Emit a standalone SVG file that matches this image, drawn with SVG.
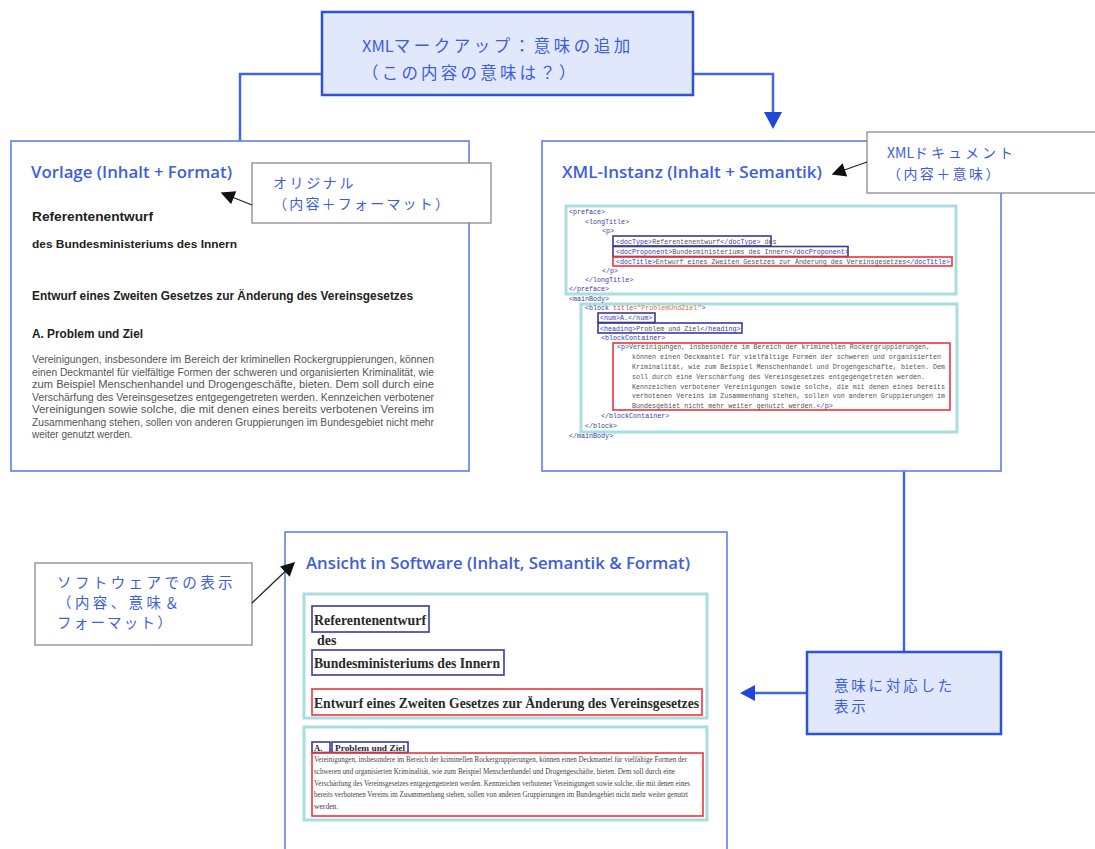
<svg xmlns="http://www.w3.org/2000/svg" width="1095" height="849" viewBox="0 0 1095 849">
<style>
.panel{fill:#fff;stroke:#5b7ff0;stroke-width:1.6}
.keybox{fill:#e1e8fb;stroke:#2d52da;stroke-width:2.5}
.callout{fill:#fff;stroke:#8a8a8a;stroke-width:1.3}
.conn{fill:none;stroke:#4268e0;stroke-width:2.5}
.pointer{fill:none;stroke:#222;stroke-width:1.3}
.teal{fill:none;stroke:#a9dede;stroke-width:3}
.blue{fill:none;stroke:#3a3a9c;stroke-width:1.6}
.red{fill:none;stroke:#f0333a;stroke-width:1.6}
.ttl{font-family:"Open Sans","Noto Sans",sans-serif;font-weight:600;font-size:15.5px;fill:#3d5ee0}
.jp{font-family:"Noto Sans CJK JP",sans-serif;fill:#3d5ee0}
.lat{letter-spacing:0}
.ar{font-family:"Liberation Sans",Arial,sans-serif;font-weight:bold;fill:#222}
.arp{font-family:"Liberation Sans",Arial,sans-serif;font-size:10px;fill:#555}
.tm{font-family:"Liberation Serif","Times New Roman",serif;font-weight:bold;fill:#2a2a2a}
.tmp{font-family:"Liberation Serif","Times New Roman",serif;font-size:7.6px;fill:#444}
.code{font-family:"Liberation Mono",monospace;font-size:6.7px;fill:#555}
.tag{fill:#3b3ba8}
.attr{fill:#d9532c}
.val{fill:#e0702a}
</style>
<defs>
<marker id="ak" viewBox="0 0 10 10" refX="9" refY="5" markerWidth="16" markerHeight="14" orient="auto" markerUnits="userSpaceOnUse">
<path d="M0,0 L10,5 L0,10 z" fill="#111"/>
</marker>
</defs>

<g id="connectors">
<path class="conn" d="M322,74 H240 V141"/>
<path class="conn" d="M693,74 H773 V113"/>
<path d="M764,112 L782,112 L773,129 z" fill="#1f46d8"/>
<path class="conn" d="M904,471 V652"/>
<path class="conn" d="M807,693 H754"/>
<path d="M755,685 L755,701 L740,693 z" fill="#1f46d8"/>
</g>

<g id="top-markup">
<rect class="keybox" x="322" y="12" width="371" height="83"/>
<text class="jp" x="362" y="52" font-size="16.5" letter-spacing="3.5"><tspan class="lat">XML</tspan>マークアップ：意味の追加</text>
<text class="jp" x="362" y="79" font-size="16.5" letter-spacing="3.2">（この内容の意味は？）</text>
</g>

<g id="vorlage">
<rect class="panel" x="11" y="141" width="458" height="330"/>
<text class="ttl" x="31" y="178" textLength="201" lengthAdjust="spacingAndGlyphs">Vorlage (Inhalt + Format)</text>
<text class="ar" x="32" y="221" font-size="13" textLength="121" lengthAdjust="spacingAndGlyphs">Referentenentwurf</text>
<text class="ar" x="32" y="248" font-size="11" textLength="205" lengthAdjust="spacingAndGlyphs">des Bundesministeriums des Innern</text>
<text class="ar" x="32" y="300" font-size="12" textLength="381" lengthAdjust="spacingAndGlyphs">Entwurf eines Zweiten Gesetzes zur Änderung des Vereinsgesetzes</text>
<text class="ar" x="32" y="338" font-size="12" textLength="111" lengthAdjust="spacingAndGlyphs">A. Problem und Ziel</text>
<text class="arp" x="32" y="363" textLength="402" lengthAdjust="spacingAndGlyphs">Vereinigungen, insbesondere im Bereich der kriminellen Rockergruppierungen, können</text>
<text class="arp" x="32" y="375.5" textLength="402" lengthAdjust="spacingAndGlyphs">einen Deckmantel für vielfältige Formen der schweren und organisierten Kriminalität, wie</text>
<text class="arp" x="32" y="388" textLength="402" lengthAdjust="spacingAndGlyphs">zum Beispiel Menschenhandel und Drogengeschäfte, bieten. Dem soll durch eine</text>
<text class="arp" x="32" y="400.5" textLength="402" lengthAdjust="spacingAndGlyphs">Verschärfung des Vereinsgesetzes entgegengetreten werden. Kennzeichen verbotener</text>
<text class="arp" x="32" y="413" textLength="402" lengthAdjust="spacingAndGlyphs">Vereinigungen sowie solche, die mit denen eines bereits verbotenen Vereins im</text>
<text class="arp" x="32" y="425.5" textLength="402" lengthAdjust="spacingAndGlyphs">Zusammenhang stehen, sollen von anderen Gruppierungen im Bundesgebiet nicht mehr</text>
<text class="arp" x="32" y="438">weiter genutzt werden.</text>
</g>

<g id="callout-original">
<rect class="callout" x="252" y="163" width="239" height="60"/>
<text class="jp" x="273" y="188" font-size="14" letter-spacing="2.6">オリジナル</text>
<text class="jp" x="273" y="209" font-size="14" letter-spacing="2.2">（内容＋フォーマット）</text>
<path class="pointer" d="M252,205 L222,193" marker-end="url(#ak)"/>
</g>

<g id="xml-instanz">
<rect class="panel" x="542" y="141" width="459" height="330"/>
<text class="ttl" x="562" y="178" textLength="260" lengthAdjust="spacingAndGlyphs">XML-Instanz (Inhalt + Semantik)</text>
<rect class="teal" x="566" y="206" width="390" height="88"/>
<rect class="teal" x="581" y="304" width="376" height="128"/>
<rect class="blue" x="613" y="236" width="158" height="10"/>
<rect class="blue" x="613" y="246.5" width="235" height="10"/>
<rect class="red" x="613" y="257" width="339" height="9"/>
<rect class="blue" x="598" y="313" width="57" height="9.5"/>
<rect class="blue" x="598" y="323" width="144" height="10"/>
<rect class="red" x="613" y="343" width="337" height="67"/>
<g class="code">
<text x="569" y="214" class="tag">&lt;preface&gt;</text>
<text x="585" y="224" class="tag">&lt;longTitle&gt;</text>
<text x="602" y="233" class="tag">&lt;p&gt;</text>
<text x="616" y="243.5"><tspan class="tag">&lt;docType&gt;</tspan>Referentenentwurf<tspan class="tag">&lt;/docType&gt;</tspan> des</text>
<text x="616" y="254"><tspan class="tag">&lt;docProponent&gt;</tspan>Bundesministeriums des Innern<tspan class="tag">&lt;/docProponent&gt;</tspan></text>
<text x="616" y="264" textLength="334" lengthAdjust="spacingAndGlyphs"><tspan class="tag">&lt;docTitle&gt;</tspan>Entwurf eines Zweiten Gesetzes zur Änderung des Vereinsgesetzes<tspan class="tag">&lt;/docTitle&gt;</tspan></text>
<text x="602" y="273" class="tag">&lt;/p&gt;</text>
<text x="585" y="282" class="tag">&lt;/longTitle&gt;</text>
<text x="569" y="291" class="tag">&lt;/preface&gt;</text>
<text x="569" y="301" class="tag">&lt;mainBody&gt;</text>
<text x="585" y="310"><tspan class="tag">&lt;block </tspan><tspan class="attr">title=</tspan><tspan class="val">"ProblemUndZiel"</tspan><tspan class="tag">&gt;</tspan></text>
<text x="600" y="320" class="tag">&lt;num&gt;A.&lt;/num&gt;</text>
<text x="600" y="330.5"><tspan class="tag">&lt;heading&gt;</tspan>Problem und Ziel<tspan class="tag">&lt;/heading&gt;</tspan></text>
<text x="601" y="339.5" class="tag">&lt;blockContainer&gt;</text>
<text x="617" y="349"><tspan class="tag">&lt;p&gt;</tspan>Vereinigungen, insbesondere im Bereich der kriminellen Rockergruppierungen,</text>
<text x="632" y="359">können einen Deckmantel für vielfältige Formen der schweren und organisierten</text>
<text x="632" y="369">Kriminalität, wie zum Beispiel Menschenhandel und Drogengeschäfte, bieten. Dem</text>
<text x="632" y="378.5">soll durch eine Verschärfung des Vereinsgesetzes entgegengetreten werden.</text>
<text x="632" y="388.5">Kennzeichen verbotener Vereinigungen sowie solche, die mit denen eines bereits</text>
<text x="632" y="398">verbotenen Vereins im Zusammenhang stehen, sollen von anderen Gruppierungen im</text>
<text x="632" y="408">Bundesgebiet nicht mehr weiter genutzt werden.<tspan class="tag">&lt;/p&gt;</tspan></text>
<text x="601" y="418" class="tag">&lt;/blockContainer&gt;</text>
<text x="585" y="427.5" class="tag">&lt;/block&gt;</text>
<text x="569" y="437.5" class="tag">&lt;/mainBody&gt;</text>
</g>
</g>

<g id="callout-xml">
<rect class="callout" x="867" y="132" width="232" height="61"/>
<text class="jp" x="887" y="158" font-size="14" letter-spacing="3"><tspan class="lat">XML</tspan>ドキュメント</text>
<text class="jp" x="887" y="179" font-size="14" letter-spacing="2.4">（内容＋意味）</text>
<path class="pointer" d="M867,162 L833,174" marker-end="url(#ak)"/>
</g>

<g id="semantic-display">
<rect class="keybox" x="807" y="652" width="194" height="82"/>
<text class="jp" x="834" y="691" font-size="14.5" letter-spacing="2.8">意味に対応した</text>
<text class="jp" x="834" y="712" font-size="14.5" letter-spacing="2.8">表示</text>
</g>

<g id="ansicht">
<rect class="panel" x="285" y="532" width="442" height="330"/>
<text class="ttl" x="306" y="569" textLength="384" lengthAdjust="spacingAndGlyphs">Ansicht in Software (Inhalt, Semantik &amp; Format)</text>
<rect class="teal" x="304" y="594" width="403" height="124"/>
<rect class="blue" x="312" y="606" width="117" height="26"/>
<text class="tm" x="314" y="625" font-size="15" textLength="112" lengthAdjust="spacingAndGlyphs">Referentenentwurf</text>
<text class="tm" x="317" y="645" font-size="14">des</text>
<rect class="blue" x="312" y="650" width="192" height="25"/>
<text class="tm" x="314" y="668" font-size="15" textLength="186" lengthAdjust="spacingAndGlyphs">Bundesministeriums des Innern</text>
<rect class="red" x="312" y="689" width="390" height="26"/>
<text class="tm" x="314" y="708" font-size="15" textLength="385" lengthAdjust="spacingAndGlyphs">Entwurf eines Zweiten Gesetzes zur Änderung des Vereinsgesetzes</text>
<rect class="teal" x="304" y="727" width="403" height="93"/>
<rect class="blue" x="312" y="742" width="18" height="10.5"/>
<text class="tm" x="314" y="750.5" font-size="8.5">A.</text>
<rect class="blue" x="332" y="742" width="76" height="10.5"/>
<text class="tm" x="335" y="750.5" font-size="8.5" textLength="70" lengthAdjust="spacingAndGlyphs">Problem und Ziel</text>
<rect class="red" x="312" y="753" width="391" height="63"/>
<text class="tmp" x="314" y="762" textLength="373" lengthAdjust="spacingAndGlyphs">Vereinigungen, insbesondere im Bereich der kriminellen Rockergruppierungen, können einen Deckmantel für vielfältige Formen der</text>
<text class="tmp" x="314" y="774" textLength="361" lengthAdjust="spacingAndGlyphs">schweren und organisierten Kriminalität, wie zum Beispiel Menschenhandel und Drogengeschäfte, bieten. Dem soll durch eine</text>
<text class="tmp" x="314" y="785.5" textLength="376" lengthAdjust="spacingAndGlyphs">Verschärfung des Vereinsgesetzes entgegengetreten werden. Kennzeichen verbotener Vereinigungen sowie solche, die mit denen eines</text>
<text class="tmp" x="314" y="797" textLength="374" lengthAdjust="spacingAndGlyphs">bereits verbotenen Vereins im Zusammenhang stehen, sollen von anderen Gruppierungen im Bundesgebiet nicht mehr weiter genutzt</text>
<text class="tmp" x="314" y="809">werden.</text>
</g>

<g id="callout-software">
<rect class="callout" x="35" y="563" width="217" height="82"/>
<text class="jp" x="57" y="588" font-size="14.5" letter-spacing="3.4">ソフトウェアでの表示</text>
<text class="jp" x="57" y="608" font-size="14.5" letter-spacing="3.4">（内容、意味＆</text>
<text class="jp" x="57" y="628" font-size="14.5" letter-spacing="2.2">フォーマット）</text>
<path class="pointer" d="M252,603 L294,563" marker-end="url(#ak)"/>
</g>
</svg>
